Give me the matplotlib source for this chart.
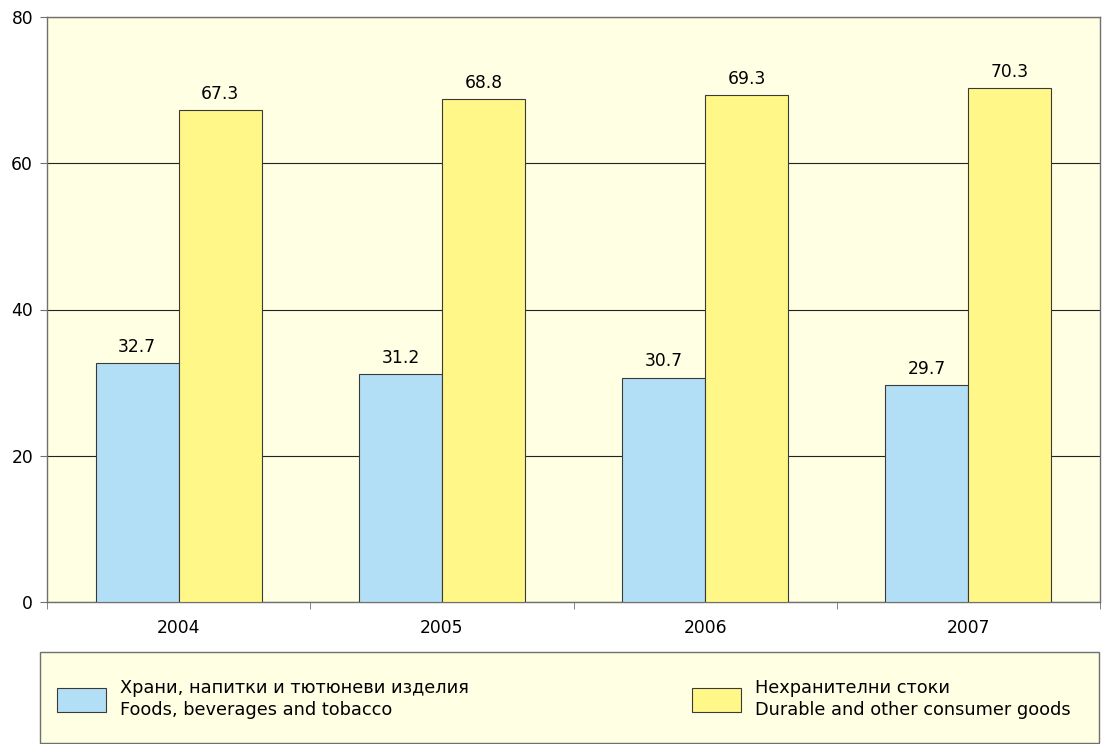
import matplotlib
matplotlib.use("Agg")
import matplotlib.pyplot as plt
from matplotlib.patches import Rectangle
import numpy as np

plt.rcParams['font.family'] = ['DejaVu Sans']

years = ['2004', '2005', '2006', '2007']
foods = [32.7, 31.2, 30.7, 29.7]
durable = [67.3, 68.8, 69.3, 70.3]
label_foods = 'Храни, напитки и тютюневи изделия\nFoods, beverages and tobacco'
label_durable = 'Нехранителни стоки\nDurable and other consumer goods'
yticks = [0, 20, 40, 60, 80]

c_blue = '#b3dff6'
c_yellow = '#fff788'
c_bg = '#ffffe3'
c_edge = '#3a3a3a'
c_axis = '#707070'
fs = 12.3
fs_leg = 12.8

W, H = 1108, 744
fig = plt.figure(figsize=(W/100, H/100), dpi=100)
ax = fig.add_axes([47/W, 1-602/H, (1100-47)/W, (602-17)/H])
ax.set_facecolor(c_bg)

x = np.arange(len(years))
w = 0.315
b1 = ax.bar(x - w/2, foods, w, color=c_blue, edgecolor=c_edge, linewidth=0.8, label=label_foods, zorder=3)
b2 = ax.bar(x + w/2, durable, w, color=c_yellow, edgecolor=c_edge, linewidth=0.8, label=label_durable, zorder=3)

for rects, vals in ((b1, foods), (b2, durable)):
    for r, v in zip(rects, vals):
        ax.text(r.get_x() + r.get_width()/2, v + 1.0, f'{v:.1f}', ha='center', va='bottom', fontsize=fs, color='black')

ax.set_xlim(-0.5, len(years) - 0.5)
ax.set_ylim(0, 80)
ax.set_yticks(yticks)
ax.set_yticklabels([str(t) for t in yticks], fontsize=fs)
ax.yaxis.grid(True, color='#222222', linewidth=0.8, zorder=1)
ax.set_axisbelow(True)

ax.set_xticks(x)
ax.set_xticklabels(years, fontsize=fs)
ax.set_xticks(np.arange(len(years) + 1) - 0.5, minor=True)
ax.tick_params(axis='x', which='major', length=0, pad=12)
ax.tick_params(axis='x', which='minor', length=5, direction='out', color=c_axis)
ax.tick_params(axis='y', length=5, direction='out', color=c_axis, pad=5)

for s in ['left', 'bottom', 'top', 'right']:
    ax.spines[s].set_color(c_axis)
    ax.spines[s].set_linewidth(1.0)

# legend box
box = Rectangle((40/W, 1/H), (1099-40)/W, (743-652)/H, transform=fig.transFigure,
                facecolor=c_bg, edgecolor=c_axis, linewidth=1.0, zorder=0)
fig.patches.append(box)

leg = fig.legend(handles=[b1, b2], loc='center left',
                 bbox_to_anchor=(57/W, 1-699/H, (1071-57)/W, 0),
                 mode='expand', ncol=2, fontsize=fs_leg, frameon=False,
                 handlelength=2.75, handleheight=1.65, handletextpad=0.82,
                 borderaxespad=0, borderpad=0, labelspacing=0.1)
for t in leg.get_texts():
    t.set_linespacing(1.3)

fig.savefig('out.png', dpi=100, facecolor='white')
